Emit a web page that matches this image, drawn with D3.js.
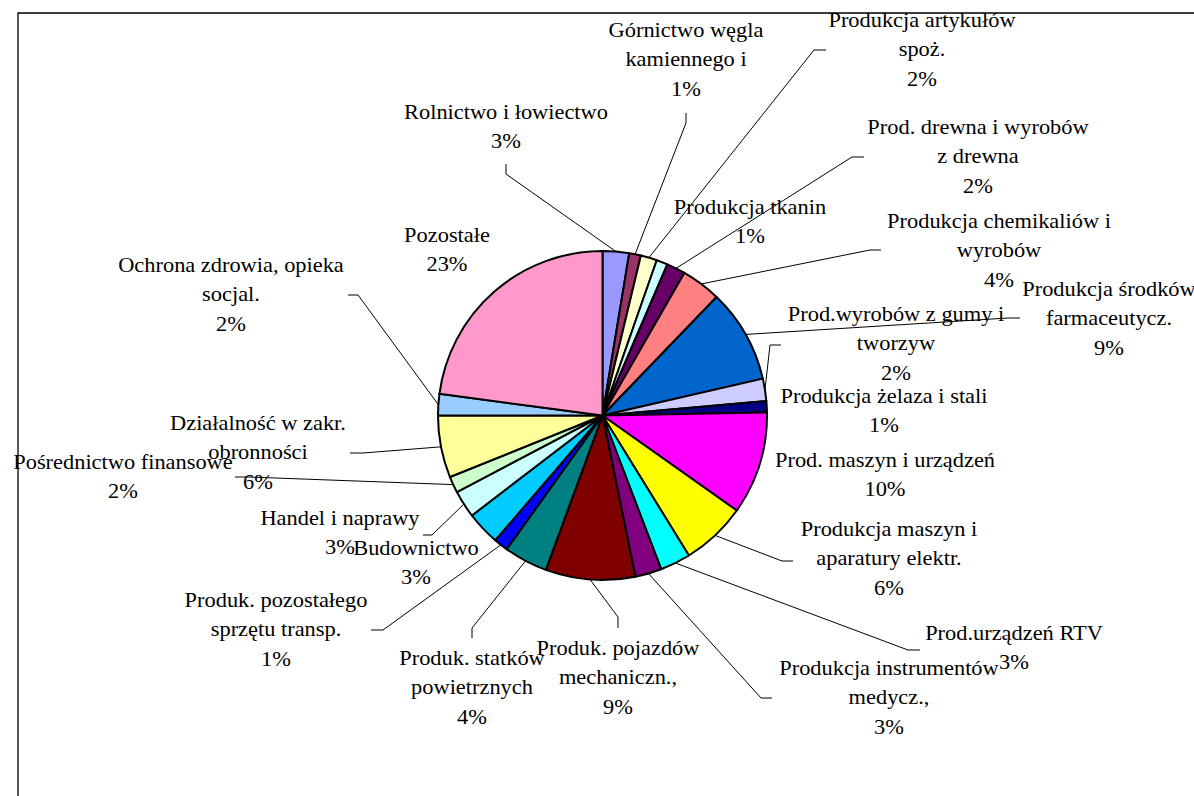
<!DOCTYPE html>
<html>
<head>
<meta charset="utf-8">
<script src="https://cdn.jsdelivr.net/npm/d3@7"></script>
<style>
  html, body { margin: 0; padding: 0; background: #fff; }
  #chart { width: 1194px; height: 796px; }
  .label text { font-family: "Liberation Serif", "Times New Roman", serif; font-size: 20px; fill: #000; }
  .leader { fill: none; stroke: #000; stroke-width: 1; }
</style>
</head>
<body>
<div id="chart"></div>
<script>
/* global d3 */

const CATEGORIES = [
  "Rolnictwo i łowiectwo",
  "Górnictwo węgla\nkamiennego i",
  "Produkcja artykułów\nspoż.",
  "Produkcja tkanin",
  "Prod. drewna i wyrobów\nz drewna",
  "Produkcja chemikaliów i\nwyrobów",
  "Produkcja środków\nfarmaceutycz.",
  "Prod.wyrobów z gumy i\ntworzyw",
  "Produkcja żelaza i stali",
  "Prod. maszyn i urządzeń",
  "Produkcja maszyn i\naparatury elektr.",
  "Prod.urządzeń RTV",
  "Produkcja instrumentów\nmedycz.,",
  "Produk. pojazdów\nmechaniczn.,",
  "Produk. statków\npowietrznych",
  "Produk. pozostałego\nsprzętu transp.",
  "Budownictwo",
  "Handel i naprawy",
  "Pośrednictwo finansowe",
  "Działalność w zakr.\nobronności",
  "Ochrona zdrowia, opieka\nsocjal.",
  "Pozostałe",
];

const VALUES = [
  2.6, 1.15, 1.6, 1.1, 1.85, 3.9, 9.2, 2.2, 1.1, 10.1, 6.4,
  3.0, 2.6, 8.8, 4.3, 1.4, 3.3, 2.7, 1.6, 6.1, 2.1, 22.9,
];

const COLORS = [
  "#9999FF", "#993366", "#FFFFCC", "#CCFFFF", "#660066", "#FF8080",
  "#0066CC", "#CCCCFF", "#000080", "#FF00FF", "#FFFF00", "#00FFFF",
  "#800080", "#800000", "#008080", "#0000FF", "#00CCFF", "#CCFFFF",
  "#CCFFCC", "#FFFF99", "#99CCFF", "#FF99CC",
];

// label placement (centre of first text line) and leader stub, in page px
const LABEL_LAYOUT = [
  { x: 506, y: 112, stub: [506, 164, 506, 174] },
  { x: 686, y: 30, stub: [686, 113, 686, 123] },
  { x: 922, y: 20, stub: [826, 50, 814, 50] },
  { x: 750, y: 207, stub: null },
  { x: 978, y: 127, stub: [864, 157, 852, 157] },
  { x: 999, y: 221, stub: [881, 250, 870, 250] },
  { x: 1109, y: 289, stub: [1020, 318, 1008, 318] },
  { x: 896, y: 314, stub: [781, 345, 770, 345] },
  { x: 884, y: 396, stub: null },
  { x: 885, y: 460, stub: null },
  { x: 889, y: 529, stub: [793, 561, 782, 561] },
  { x: 1014, y: 633, stub: [920, 650, 908, 650] },
  { x: 889, y: 668, stub: [772, 698, 761, 698] },
  { x: 618, y: 648, stub: [618, 628, 618, 617] },
  { x: 472, y: 658, stub: [472, 638, 472, 628] },
  { x: 276, y: 600, stub: [371, 630, 383, 630] },
  { x: 416, y: 548, stub: null },
  { x: 340, y: 518, stub: [423, 535, 432, 535] },
  { x: 123, y: 462, stub: [235, 477, 248, 477] },
  { x: 258, y: 423, stub: [350, 453, 363, 453] },
  { x: 231, y: 265, stub: [348, 295, 358, 295] },
  { x: 447, y: 235, stub: null },
];

const width = 1194;
const height = 796;
const center = { x: 602.5, y: 415.5 };
const radius = 164.5;
const lineStep = 29.5;
const textScaleX = 1.12;

const data = CATEGORIES.map((name, i) => ({
  name,
  value: VALUES[i],
  color: COLORS[i],
  layout: LABEL_LAYOUT[i],
}));
const total = d3.sum(VALUES);
const pct = d3.format(".0%");

const svg = d3
  .select("#chart")
  .append("svg")
  .attr("width", width)
  .attr("height", height)
  .attr("viewBox", `0 0 ${width} ${height}`);

// chart area border (only top and left edges show in the frame)
svg.append("path")
  .attr("d", `M18,${height + 5}V13H${width + 5}`)
  .attr("fill", "none")
  .attr("stroke", "#000")
  .attr("stroke-width", 1.3);

const pie = d3.pie().sort(null).value((d) => d.value);
const arcs = pie(data);
const arc = d3.arc().innerRadius(0).outerRadius(radius);
const edge = d3.arc().innerRadius(radius).outerRadius(radius);

const g = svg.append("g").attr("transform", `translate(${center.x},${center.y})`);

g.selectAll("path.slice")
  .data(arcs)
  .join("path")
  .attr("class", "slice")
  .attr("d", arc)
  .attr("fill", (d) => d.data.color)
  .attr("stroke", "#000")
  .attr("stroke-width", 2)
  .attr("stroke-linejoin", "round");

// leader lines: stub next to the label, then straight to the slice edge
svg.selectAll("path.leader")
  .data(arcs.filter((d) => d.data.layout.stub))
  .join("path")
  .attr("class", "leader")
  .attr("d", (d) => {
    const [x1, y1, x2, y2] = d.data.layout.stub;
    const [ex, ey] = edge.centroid(d);
    return d3.line()([[x1, y1], [x2, y2], [center.x + ex, center.y + ey]]);
  });

const labels = svg.selectAll("g.label")
  .data(arcs)
  .join("g")
  .attr("class", "label")
  .attr("transform", (d) => `translate(${d.data.layout.x},${d.data.layout.y}) scale(${textScaleX},1)`);

labels.each(function (d) {
  const lines = d.data.name.split("\n").concat(pct(d.data.value / total));
  d3.select(this)
    .selectAll("text")
    .data(lines)
    .join("text")
    .attr("x", 0)
    .attr("y", (t, i) => i * lineStep)
    .attr("dy", "0.35em")
    .attr("text-anchor", "middle")
    .text((t) => t);
});
</script>
</body>
</html>
